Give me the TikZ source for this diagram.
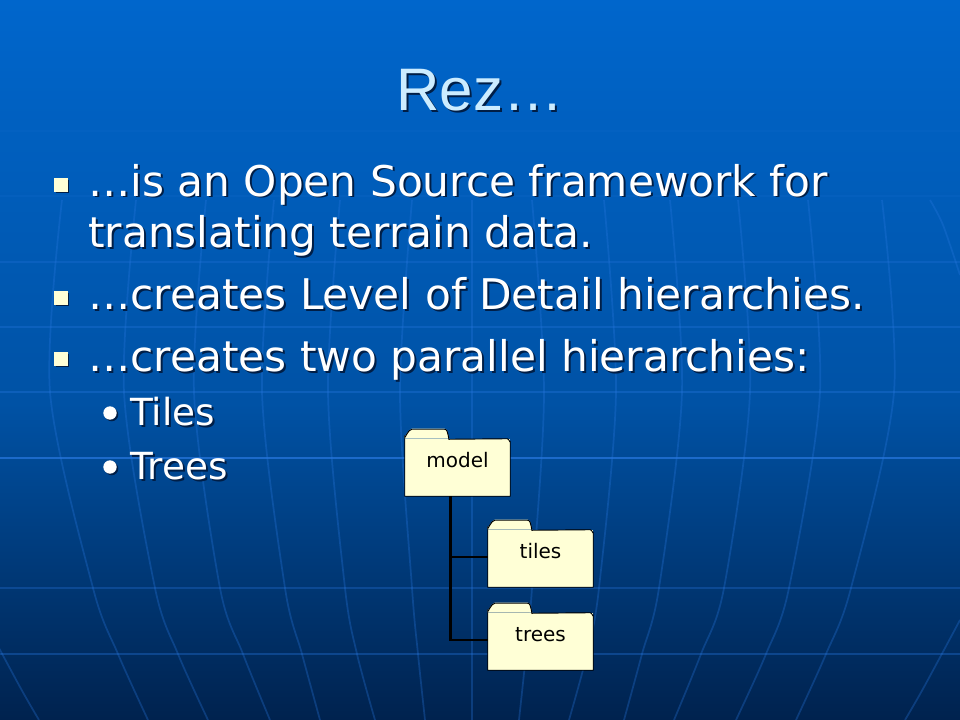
\documentclass[tikz,border=0pt]{standalone}
\usepackage{fontspec}
\setmainfont{DejaVu Sans}
\newfontfamily\titlefont{Liberation Sans}
\usetikzlibrary{shadows}

\definecolor{folderfill}{RGB}{255,255,214}
\definecolor{titlecolor}{RGB}{204,236,255}
\definecolor{gridcolor}{RGB}{40,120,225}
\definecolor{shadecolor}{RGB}{0,30,70}
\definecolor{bgtop}{RGB}{0,102,204}
\definecolor{bgmid}{RGB}{0,82,165}
\definecolor{bgbottom}{RGB}{0,34,78}

\pgfdeclareverticalshading{slidebg}{100bp}{
  color(0bp)=(bgbottom);
  color(25bp)=(bgbottom);
  color(47bp)=(bgmid);
  color(75bp)=(bgtop);
  color(100bp)=(bgtop)}

\newcommand{\px}{0.75pt}
\newcommand{\shadowed}[1]{\leavevmode\rlap{\kern1.5pt\raisebox{-1.5pt}{\color{shadecolor}#1}}#1}
% outline of a folder, tab included, around its body node
\newcommand{\foldertab}[1]{
  \fill[folderfill] (#1.north west) -- ++(0,-3) to[out=270,in=180] ++(7,-7) -- ++(33,0)
    to[out=0,in=250] ++(5,10) -- cycle;
  \draw[folderline] (#1.south west) -- ++(0,-60) to[out=270,in=180] ++(7,-7) -- ++(33,0)
    to[out=0,in=250] ++(5,10) -- ([xshift=-3*\px]#1.north east)
    to[out=0,in=270] ([yshift=-3*\px]#1.north east) -- (#1.south east) -- cycle;
}

\tikzset{
  gridline/.style={draw=gridcolor,line width=1.3},
  meridian/.style={draw=gridcolor,opacity=0.3,line width=1.3},
  folderline/.style={draw=black,line width=0.7},
  folderbox/.style={fill=folderfill,inner sep=0pt,minimum width=105*\px,minimum height=57*\px,
    font=\fontsize{15}{18}\selectfont,text=black,text height=9pt,text depth=9pt},
  treeline/.style={draw=black,line width=2.2},
  bodytext/.style={anchor=base west,inner sep=0pt,text=white,align=left,
    font=\fontsize{31.7}{39}\selectfont},
  subtext/.style={bodytext,font=\fontsize{28}{33}\selectfont},
  bullet/.style={fill=folderfill,inner sep=0pt,minimum size=10pt,
    drop shadow={shadow xshift=1.2pt,shadow yshift=-1.2pt,fill=shadecolor,opacity=1}},
  subbullet/.style={circle,fill=white,inner sep=0pt,minimum size=10pt,
    drop shadow={shadow xshift=1.2pt,shadow yshift=-1.2pt,fill=shadecolor,opacity=1}}
}

\begin{document}
\begin{tikzpicture}[x=0.75pt,y=-0.75pt]
\useasboundingbox (0,0) rectangle (960,720);
\clip (0,0) rectangle (960,720);

% Background
\path[shading=slidebg] (0,0) rectangle (960,720);

% Horizontal grid lines
\foreach \gy/\gop in {131/0.08,196/0.12,262/0.25,327/0.3,392/0.35,458/0.7,588/0.3,654/0.35}
  \draw[gridline,opacity=\gop] (0,\gy) -- (960,\gy);

% Meridians, left and right
\foreach \xa/\xb/\xc/\xd in {50/93/118/148,124/155/178/208,194/220/243/270,262/285/302/320,328/345/357/375,400/412/418/425}{
  \draw[meridian] plot[smooth] coordinates {(\xa+12,200) (\xa,392) (\xb,588) (\xc,654) (\xd,720)};
  \draw[meridian] plot[smooth] coordinates {(932-\xa,200) (944-\xa,392) (944-\xb,588) (944-\xc,654) (944-\xd,720)};
}
\draw[meridian] (472,200) -- (472,720);
% Outer meridians in the corners
\draw[meridian] plot[smooth] coordinates {(-16,620) (20,687) (39,720)};
\draw[meridian] plot[smooth] coordinates {(960,620) (924,687) (905,720)};
\draw[meridian] plot[smooth] coordinates {(930,200) (943,225) (960,275)};

% Title
\node[inner sep=0pt,anchor=base,text=titlecolor,font=\titlefont\fontsize{45}{50}\selectfont] (title) at (480,111) {\shadowed{Rez…}};

% Bullets
\node[bullet] (b1) at (61,185) {};
\node[bodytext] (line1) at (88,248) {\shadowed{…is an Open Source framework for}\\\shadowed{translating terrain data.}};
\node[bullet] (b2) at (61,298) {};
\node[bodytext] (line2) at (88,310) {\shadowed{…creates Level of Detail hierarchies.}};
\node[bullet] (b3) at (61,359) {};
\node[bodytext] (line3) at (88,371) {\shadowed{…creates two parallel hierarchies:}};
\node[subbullet] (s1) at (110,413) {};
\node[subtext] (tiles text) at (130,425) {\shadowed{Tiles}};
\node[subbullet] (s2) at (110,467) {};
\node[subtext] (trees text) at (130,479) {\shadowed{Trees}};

% Folders
\node[folderbox] (model) at (457.5,467.5) {model};
\foldertab{model}
\node[folderbox] (tiles) at (540.5,558.5) {tiles};
\foldertab{tiles}
\node[folderbox] (trees) at (540.5,641.5) {trees};
\foldertab{trees}

% Connectors
\coordinate (trunk) at ([xshift=-7*\px]model.south);
\draw[treeline] (trunk) |- ([shift={(0,-1.5)}]trees.west);
\draw[treeline] (trunk |- tiles.west) ++(0,-1.5) -- ([shift={(0,-1.5)}]tiles.west);
\end{tikzpicture}
\end{document}
